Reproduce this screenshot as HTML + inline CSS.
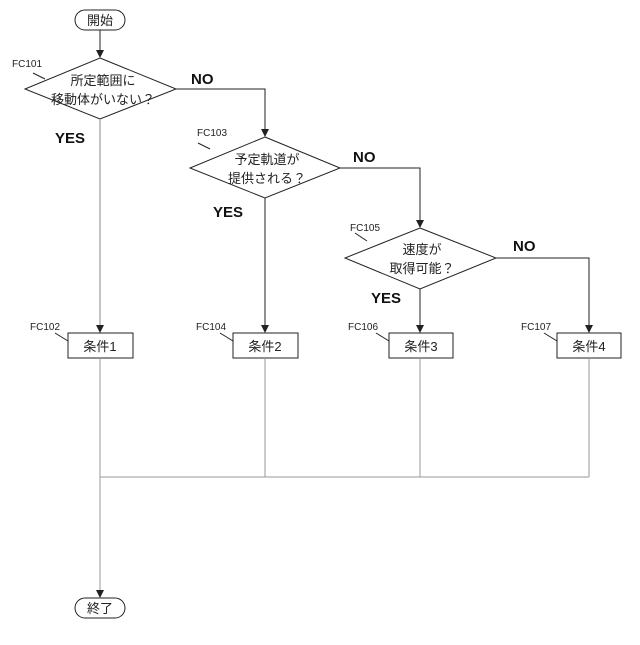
<!DOCTYPE html>
<html><head><meta charset="utf-8"><style>body{margin:0;background:#fff}</style></head><body>
<svg width="640" height="640" viewBox="0 0 640 640" xmlns="http://www.w3.org/2000/svg" font-family="'Liberation Sans','Noto Sans CJK JP',sans-serif">
<defs><marker id="a" markerWidth="8" markerHeight="8" refX="7" refY="4" orient="auto" markerUnits="userSpaceOnUse"><path d="M0,0 L8,4 L0,8 z" fill="#222"/></marker></defs>
<g fill="none" stroke="#222" stroke-width="1">
<rect x="75" y="10" width="50" height="20" rx="10"/>
<line x1="100" y1="30" x2="100" y2="57" marker-end="url(#a)"/>
<polygon points="100,58 176,89 100,119 25,89"/>
<polyline points="176,89 265,89 265,136" marker-end="url(#a)"/>
<polygon points="265,137 340,168 265,198 190,168"/>
<polyline points="340,168 420,168 420,227" marker-end="url(#a)"/>
<polygon points="420,228 496,258 420,289 345,258"/>
<polyline points="496,258 589,258 589,332" marker-end="url(#a)"/>
<line x1="100" y1="119" x2="100" y2="332" stroke="#888" marker-end="url(#a)"/>
<line x1="265" y1="198" x2="265" y2="332" marker-end="url(#a)"/>
<line x1="420" y1="289" x2="420" y2="332" marker-end="url(#a)"/>
<rect x="68" y="333" width="65" height="25"/>
<rect x="233" y="333" width="65" height="25"/>
<rect x="389" y="333" width="64" height="25"/>
<rect x="557" y="333" width="64" height="25"/>
<g stroke="#999">
<line x1="100" y1="358" x2="100" y2="477"/>
<line x1="265" y1="358" x2="265" y2="477"/>
<line x1="420" y1="358" x2="420" y2="477"/>
<line x1="589" y1="358" x2="589" y2="477"/>
<line x1="100" y1="477" x2="589" y2="477"/>
<line x1="100" y1="477" x2="100" y2="597" marker-end="url(#a)"/>
</g>
<rect x="75" y="598" width="50" height="20" rx="10"/>
<line x1="33" y1="73" x2="45" y2="79"/>
<line x1="198" y1="143" x2="210" y2="149"/>
<line x1="355" y1="233" x2="367" y2="241"/>
<line x1="55" y1="333" x2="68" y2="341"/>
<line x1="220" y1="333" x2="233" y2="341"/>
<line x1="376" y1="333" x2="389" y2="341"/>
<line x1="544" y1="333" x2="557" y2="341"/>
</g>
<g font-size="13" fill="#222" text-anchor="middle">
<text x="100" y="25">開始</text>
<text x="100" y="613">終了</text>
<text x="103" y="85">所定範囲に</text>
<text x="103" y="104">移動体がいない？</text>
<text x="267" y="164">予定軌道が</text>
<text x="267" y="183">提供される？</text>
<text x="422" y="254">速度が</text>
<text x="422" y="273">取得可能？</text>
<text x="100" y="351">条件1</text>
<text x="265" y="351">条件2</text>
<text x="421" y="351">条件3</text>
<text x="589" y="351">条件4</text>
</g>
<g font-size="10" fill="#222">
<text x="12" y="67">FC101</text>
<text x="197" y="136">FC103</text>
<text x="350" y="231">FC105</text>
<text x="30" y="330">FC102</text>
<text x="196" y="330">FC104</text>
<text x="348" y="330">FC106</text>
<text x="521" y="330">FC107</text>
</g>
<g font-size="15" font-weight="bold" fill="#111">
<text x="191" y="84">NO</text>
<text x="353" y="162">NO</text>
<text x="513" y="251">NO</text>
<text x="55" y="143">YES</text>
<text x="213" y="217">YES</text>
<text x="371" y="303">YES</text>
</g>
</svg>
</body></html>
